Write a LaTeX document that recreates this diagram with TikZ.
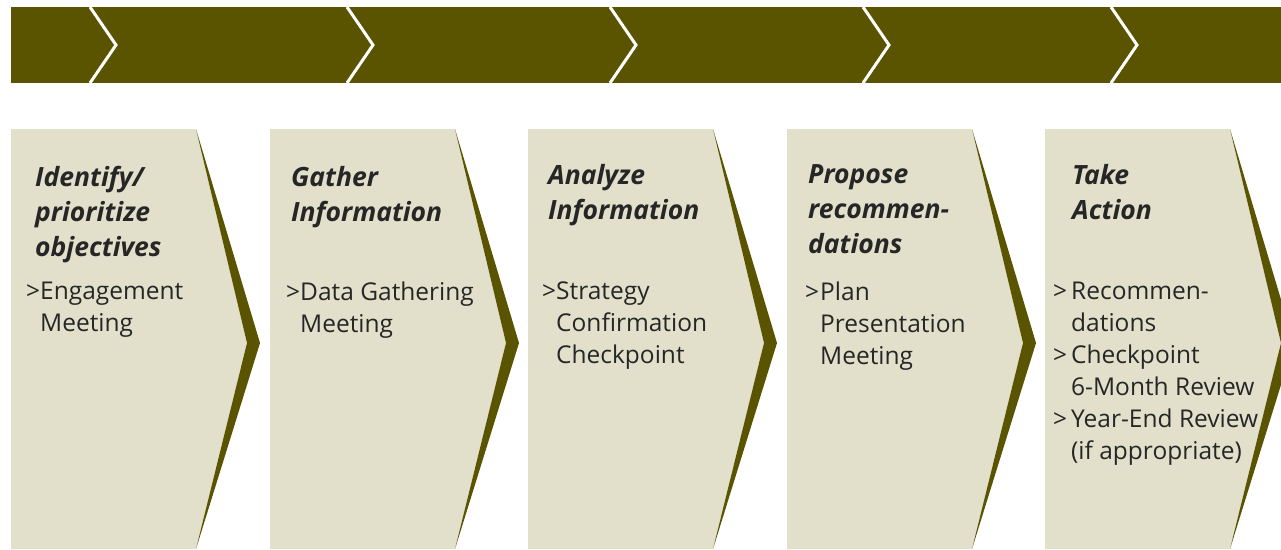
\documentclass[tikz,border=0pt]{standalone}
\usepackage{fontspec}
\setmainfont{Open Sans}
\definecolor{bandcol}{HTML}{5A5300}
\definecolor{panelcol}{HTML}{E2E0CB}
\tikzset{
  steptitle/.style={anchor=north west, inner sep=0pt, align=left, text=black!85,
    font=\bfseries\itshape\fontsize{26.5}{35}\selectfont},
  steptext/.style={anchor=north west, inner sep=0pt, align=left, text=black!85,
    font=\fontsize{24.5}{32}\selectfont}
}
\begin{document}
\begin{tikzpicture}[x=1pt,y=-1pt]
    \useasboundingbox (0,0) rectangle (1281,549);
    \clip (0,0) rectangle (1281,549);

    % banner
    \fill[bandcol] (11,7) rectangle (1281,83);
    \foreach \t in {90,347,610,863,1111}
        \draw[white,line width=3pt] (\t,7) -- ++(26,38) -- ++(-26,38);

    % panels
    \foreach \p in {11,270,528,787,1045} {
        \fill[panelcol] (\p,129) -- ++(185,0) -- ++(51,214) -- ++(-51,206) -- ++(-185,0) -- cycle;
        \fill[bandcol] (\p+185,129) -- ++(64,214) -- ++(-64,206) -- ++(51,-206) -- cycle;
    }

    \node[steptitle] (t1) at (35,166) {Identify/\\prioritize\\objectives};
    \node[steptext] (s1) at (40,282) {\llap{>}Engagement\\Meeting};

    \node[steptitle] (t2) at (291,166) {Gather\\Information};
    \node[steptext] (s2) at (300,282) {\llap{>}Data Gathering\\Meeting};

    \node[steptitle] (t3) at (548,164) {Analyze\\Information};
    \node[steptext] (s3) at (556,282) {\llap{>}Strategy\\Confirmation\\Checkpoint};

    \node[steptitle] (t4) at (808,164) {Propose\\recommen-\\dations};
    \node[steptext] (s4) at (820,282) {\llap{>\hspace{1pt}}Plan\\Presentation\\Meeting};

    \node[steptitle] (t5) at (1072,164) {Take\\Action};
    \node[steptext] (s5) at (1071,282) {\llap{>\hspace{4pt}}Recommen-\\dations\\
        \llap{>\hspace{4pt}}Checkpoint\\6-Month Review\\
        \llap{>\hspace{4pt}}Year-End Review\\(if appropriate)};

\end{tikzpicture}
\end{document}
